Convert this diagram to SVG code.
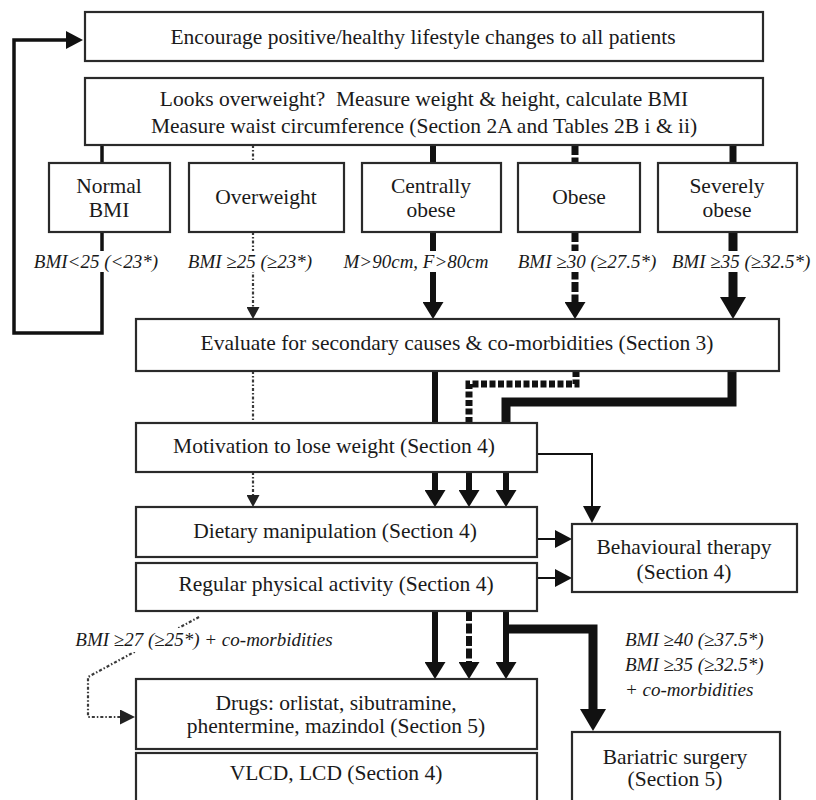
<svg xmlns="http://www.w3.org/2000/svg" width="816" height="800" viewBox="0 0 816 800">
<style>
.box{fill:#fff;stroke:#2a2a2a;stroke-width:2.2}
.t{font-family:"Liberation Serif","Times New Roman",serif;font-size:21.5px;fill:#1a1a1a;text-anchor:middle}
.i{font-family:"Liberation Serif","Times New Roman",serif;font-size:19px;font-style:italic;fill:#1a1a1a}
.im{text-anchor:middle}
.bg{fill:#fff}
.c{fill:none;stroke:#111;stroke-linejoin:miter}
.dot{stroke:#3a3a3a;stroke-width:2.2;stroke-dasharray:3 2 1.5 2}
.s3{stroke-width:3.5}
.s6{stroke-width:6}
.s7{stroke-width:7}
.s9{stroke-width:9}
.s2{stroke-width:2}
.dsh{stroke-dasharray:10 2.5}
.dsq{stroke-dasharray:6 2.5}
</style>
<defs>
<marker id="aS" markerUnits="userSpaceOnUse" markerWidth="12" markerHeight="13" viewBox="0 0 12 13" refX="0" refY="6.5" orient="auto" preserveAspectRatio="none"><path d="M0,0 L12,6.5 L0,13 Z" fill="#222"/></marker>
<marker id="aS2" markerUnits="userSpaceOnUse" markerWidth="15" markerHeight="15" viewBox="0 0 15 15" refX="0" refY="7.5" orient="auto" preserveAspectRatio="none"><path d="M0,0 L15,7.5 L0,15 Z" fill="#222"/></marker>
<marker id="aM" markerUnits="userSpaceOnUse" markerWidth="17" markerHeight="21" viewBox="0 0 17 21" refX="0" refY="10.5" orient="auto" preserveAspectRatio="none"><path d="M0,0 L17,10.5 L0,21 Z" fill="#111"/></marker>
<marker id="aL" markerUnits="userSpaceOnUse" markerWidth="22" markerHeight="26" viewBox="0 0 22 26" refX="0" refY="13" orient="auto" preserveAspectRatio="none"><path d="M0,0 L22,13 L0,26 Z" fill="#111"/></marker>
<marker id="aT" markerUnits="userSpaceOnUse" markerWidth="17" markerHeight="18" viewBox="0 0 17 18" refX="0" refY="9" orient="auto" preserveAspectRatio="none"><path d="M0,0 L17,9 L0,18 Z" fill="#111"/></marker>
</defs>

<g id="connectors">
<path class="c s3" d="M102,232 V333 H14 V40 H66" marker-end="url(#aT)"/>
<path class="c s3" d="M102,145 V163"/>
<path class="c dot" d="M253,145 V163"/>
<path class="c s6" d="M433,145 V163"/>
<path class="c s7 dsh" d="M575,145 V163"/>
<path class="c s7" d="M733,145 V163"/>
<path class="c dot" d="M253,232 V307" marker-end="url(#aS)"/>
<path class="c s6" d="M433,232 V302" marker-end="url(#aM)"/>
<path class="c s7 dsh" d="M575,232 V302" marker-end="url(#aM)"/>
<path class="c s9" d="M733,232 V297" marker-end="url(#aL)"/>
<path class="c dot" d="M253,371 V423"/>
<path class="c s6" d="M435,371 V423"/>
<path class="c s7 dsq" d="M576,371 V384 H469 V423"/>
<path class="c s9" d="M732,371 V402 H506 V423"/>
<path class="c dot" d="M253,472 V495" marker-end="url(#aS)"/>
<path class="c s6" d="M435,472 V490" marker-end="url(#aM)"/>
<path class="c s6" d="M469,472 V490" marker-end="url(#aM)"/>
<path class="c s6" d="M506,472 V490" marker-end="url(#aM)"/>
<path class="c s2" d="M537,454 H592 V506" marker-end="url(#aT)"/>
<path class="c s2" d="M537,539 H555" marker-end="url(#aT)"/>
<path class="c s2" d="M537,578 H555" marker-end="url(#aT)"/>
<path class="c s6" d="M435,611 V662" marker-end="url(#aM)"/>
<path class="c s6 dsh" d="M469,611 V662" marker-end="url(#aM)"/>
<path class="c s6" d="M506,611 V662" marker-end="url(#aM)"/>
<path class="c s9" d="M506,629 H593 V709" marker-end="url(#aL)"/>
<path class="c dot" d="M199,617 L88,677 V717 H120" marker-end="url(#aS2)"/>
</g>

<g id="labels">
<rect class="bg" x="28" y="251" width="136" height="21"/>
<text class="i im" x="96" y="268">BMI&lt;25 (&lt;23*)</text>
<rect class="bg" x="185" y="251" width="130" height="21"/>
<text class="i im" x="250" y="268">BMI ≥25 (≥23*)</text>
<rect class="bg" x="340" y="251" width="152" height="21"/>
<text class="i im" x="416" y="268">M&gt;90cm, F&gt;80cm</text>
<rect class="bg" x="516" y="251" width="143" height="21"/>
<text class="i im" x="587" y="268">BMI ≥30 (≥27.5*)</text>
<rect class="bg" x="670" y="251" width="142" height="21"/>
<text class="i im" x="741" y="268">BMI ≥35 (≥32.5*)</text>
<rect class="bg" x="73" y="628" width="262" height="24"/>
<text class="i im" x="204" y="646">BMI ≥27 (≥25*) + co-morbidities</text>
<text class="i" x="625" y="646">BMI ≥40 (≥37.5*)</text>
<text class="i" x="625" y="671">BMI ≥35 (≥32.5*)</text>
<text class="i" x="625" y="696">+ co-morbidities</text>
</g>

<g id="n-encourage"><rect class="box" x="85" y="12" width="678" height="49"/><text class="t" x="423" y="44">Encourage positive/healthy lifestyle changes to all patients</text></g>
<g id="n-measure"><rect class="box" x="85" y="78" width="678" height="67"/><text class="t" x="424" y="106">Looks overweight?&#160; Measure weight &amp; height, calculate BMI</text><text class="t" x="424" y="133">Measure waist circumference (Section 2A and Tables 2B i &amp; ii)</text></g>
<g id="n-normal"><rect class="box" x="49" y="163" width="121" height="69"/><text class="t" x="109" y="193">Normal</text><text class="t" x="109" y="217">BMI</text></g>
<g id="n-overweight"><rect class="box" x="189" y="163" width="155" height="69"/><text class="t" x="266" y="204">Overweight</text></g>
<g id="n-central"><rect class="box" x="362" y="163" width="139" height="69"/><text class="t" x="431" y="193">Centrally</text><text class="t" x="431" y="217">obese</text></g>
<g id="n-obese"><rect class="box" x="518" y="163" width="122" height="69"/><text class="t" x="579" y="204">Obese</text></g>
<g id="n-severe"><rect class="box" x="658" y="163" width="139" height="69"/><text class="t" x="727" y="193">Severely</text><text class="t" x="727" y="217">obese</text></g>
<g id="n-evaluate"><rect class="box" x="136" y="319" width="643" height="52"/><text class="t" x="457" y="350">Evaluate for secondary causes &amp; co-morbidities (Section 3)</text></g>
<g id="n-motivation"><rect class="box" x="136" y="423" width="401" height="49"/><text class="t" x="334" y="453">Motivation to lose weight (Section 4)</text></g>
<g id="n-dietary"><rect class="box" x="136" y="507" width="401" height="50"/><text class="t" x="335" y="538">Dietary manipulation (Section 4)</text></g>
<g id="n-activity"><rect class="box" x="136" y="563" width="401" height="48"/><text class="t" x="336" y="591">Regular physical activity (Section 4)</text></g>
<g id="n-behavioural"><rect class="box" x="572" y="524" width="225" height="68"/><text class="t" x="684" y="554">Behavioural therapy</text><text class="t" x="684" y="579">(Section 4)</text></g>
<g id="n-drugs"><rect class="box" x="136" y="679" width="401" height="70"/><text class="t" x="336" y="710">Drugs: orlistat, sibutramine,</text><text class="t" x="336" y="733">phentermine, mazindol (Section 5)</text></g>
<g id="n-vlcd"><rect class="box" x="136" y="753" width="401" height="60"/><text class="t" x="336" y="780">VLCD, LCD (Section 4)</text></g>
<g id="n-bariatric"><rect class="box" x="572" y="732" width="208" height="80"/><text class="t" x="675" y="764">Bariatric surgery</text><text class="t" x="675" y="786">(Section 5)</text></g>
</svg>
